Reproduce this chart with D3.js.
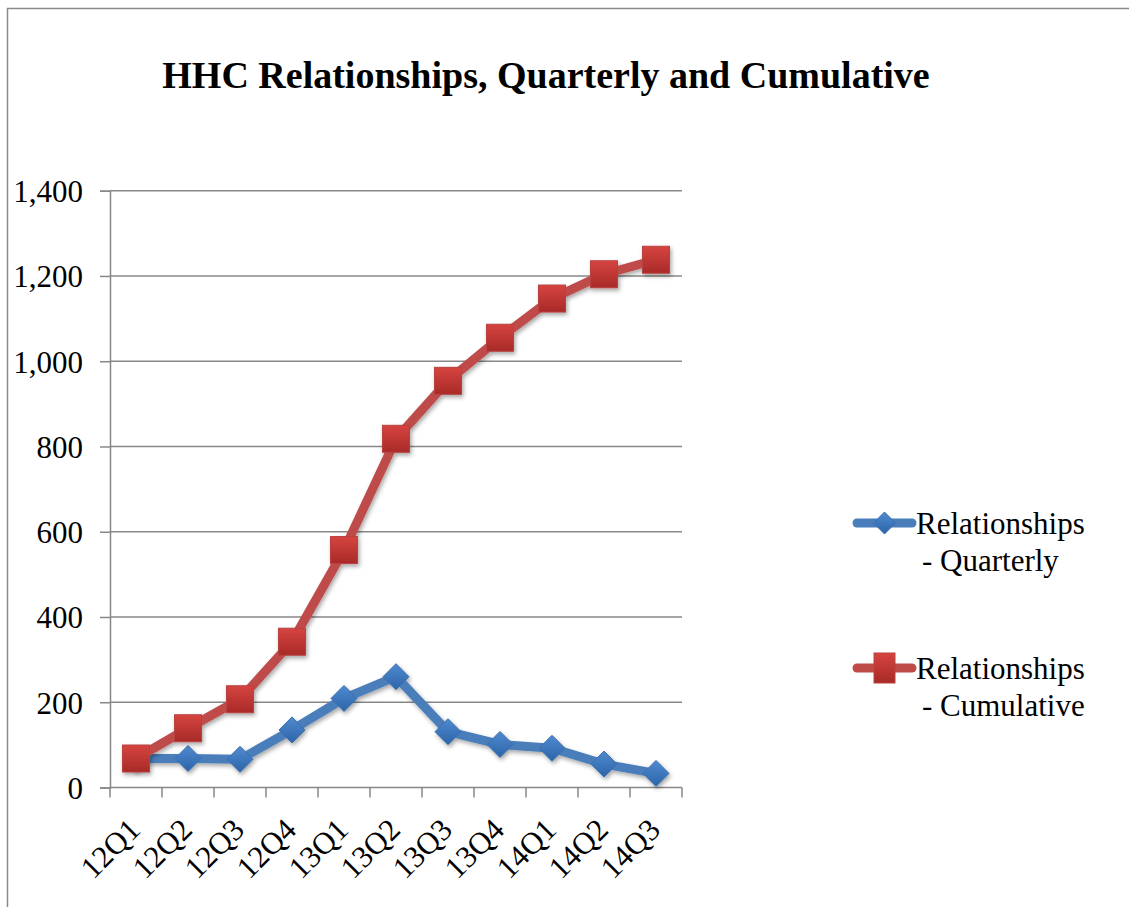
<!DOCTYPE html>
<html>
<head>
<meta charset="utf-8">
<script src="https://cdn.jsdelivr.net/npm/d3@7"></script>
<style>
  html, body { margin: 0; padding: 0; background: #ffffff; }
  svg { display: block; }
  svg text { font-family: "Liberation Serif", "Times New Roman", serif !important; fill: #000; }
</style>
</head>
<body>
<div id="chart"></div>
<script>
// Quarterly and cumulative HHC relationship counts
const quarters = ["12Q1", "12Q2", "12Q3", "12Q4", "13Q1", "13Q2", "13Q3", "13Q4", "14Q1", "14Q2", "14Q3"];
const quarterly = [68, 68, 66, 135, 209, 260, 131, 101, 92, 55, 33];
const cumulative = [68, 139, 207, 342, 557, 818, 954, 1055, 1147, 1204, 1238];
const yTicks = [0, 200, 400, 600, 800, 1000, 1200, 1400];
const seriesNames = ["Relationships - Quarterly", "Relationships - Cumulative"];

const W = 1129, H = 907;
const plot = { left: 110, right: 682, top: 190.7, bottom: 787.5 };
const SERIF = "'Liberation Serif', 'Times New Roman', serif";

const svg = d3.select("#chart").append("svg")
  .attr("width", W).attr("height", H)
  .style("font-family", SERIF);

const defs = svg.append("defs");

// soft drop shadow for lines and markers
const shadow = defs.append("filter").attr("id", "shadow")
  .attr("x", "-50%").attr("y", "-50%").attr("width", "200%").attr("height", "200%");
shadow.append("feDropShadow")
  .attr("dx", 1.5).attr("dy", 2.5).attr("stdDeviation", 2)
  .attr("flood-color", "#000").attr("flood-opacity", 0.35);

const redGrad = defs.append("linearGradient").attr("id", "redGrad")
  .attr("x1", 0).attr("y1", 0).attr("x2", 0).attr("y2", 1);
redGrad.append("stop").attr("offset", "0%").attr("stop-color", "#D64440");
redGrad.append("stop").attr("offset", "100%").attr("stop-color", "#A82A28");

const blueGrad = defs.append("linearGradient").attr("id", "blueGrad")
  .attr("x1", 0).attr("y1", 0).attr("x2", 0).attr("y2", 1);
blueGrad.append("stop").attr("offset", "0%").attr("stop-color", "#4F8AD0");
blueGrad.append("stop").attr("offset", "100%").attr("stop-color", "#2D64A8");

// outer frame
svg.append("rect")
  .attr("x", 7.5).attr("y", 8.5).attr("width", 1140).attr("height", 920)
  .attr("fill", "#fff").attr("stroke", "#8a8a8a").attr("stroke-width", 1.5);

// title
svg.append("text")
  .attr("x", 546).attr("y", 88)
  .attr("text-anchor", "middle")
  .attr("font-size", 38).attr("font-weight", "bold")
  .style("font-family", SERIF)
  .text("HHC Relationships, Quarterly and Cumulative");

const x = d3.scaleBand().domain(quarters).range([plot.left, plot.right]).padding(0);
const y = d3.scaleLinear().domain([0, 1400]).range([plot.bottom, plot.top]);

// horizontal gridlines
svg.append("g")
  .selectAll("line").data(yTicks.filter(d => d > 0)).join("line")
  .attr("x1", plot.left).attr("x2", plot.right)
  .attr("y1", d => y(d)).attr("y2", d => y(d))
  .attr("stroke", "#878787").attr("stroke-width", 1.5);

// y axis
const yAxis = svg.append("g")
  .attr("transform", `translate(${plot.left},0)`)
  .call(d3.axisLeft(y).tickValues(yTicks).tickSize(10).tickPadding(17)
    .tickFormat(d3.format(",")));
yAxis.attr("font-family", null).attr("font-size", null);
yAxis.select(".domain").attr("stroke", "#878787").attr("stroke-width", 1.5);
yAxis.selectAll(".tick line").attr("stroke", "#878787").attr("stroke-width", 1.5);
yAxis.selectAll(".tick text")
  .attr("font-size", 31).style("font-family", SERIF)
  .attr("fill", "#000").attr("dy", "0.35em");

// x axis with boundary ticks between categories
const xAxisG = svg.append("g").attr("transform", `translate(0,${plot.bottom})`);
xAxisG.append("line")
  .attr("x1", plot.left).attr("x2", plot.right)
  .attr("stroke", "#878787").attr("stroke-width", 1.5);
const boundaries = quarters.map(q => x(q)).concat([plot.right]);
xAxisG.selectAll("line.tk").data(boundaries).join("line").attr("class", "tk")
  .attr("x1", d => d).attr("x2", d => d).attr("y1", 0).attr("y2", 10)
  .attr("stroke", "#878787").attr("stroke-width", 1.5);
xAxisG.selectAll("text").data(quarters).join("text")
  .attr("transform", d => `translate(${x(d) + x.bandwidth() / 2 + 6},${44}) rotate(-45)`)
  .attr("text-anchor", "end")
  .attr("font-size", 31)
  .style("font-family", SERIF)
  .text(d => d);

const cx = (d, i) => x(quarters[i]) + x.bandwidth() / 2;
const line = d3.line().x((d, i) => cx(d, i)).y(d => y(d));

const diamond = s => `M0,${-s} L${s},0 L0,${s} L${-s},0 Z`;

// quarterly series: blue line with diamond markers
const gQ = svg.append("g").attr("filter", "url(#shadow)");
gQ.append("path").datum(quarterly)
  .attr("d", line).attr("fill", "none")
  .attr("stroke", "#4A7EBB").attr("stroke-width", 9)
  .attr("stroke-linejoin", "round").attr("stroke-linecap", "round");
gQ.selectAll("path.mk").data(quarterly).join("path").attr("class", "mk")
  .attr("d", diamond(13))
  .attr("transform", (d, i) => `translate(${cx(d, i)},${y(d)})`)
  .attr("fill", "url(#blueGrad)").attr("stroke", "#3A6FB0").attr("stroke-width", 1);

// cumulative series: red line with square markers
const gC = svg.append("g").attr("filter", "url(#shadow)");
gC.append("path").datum(cumulative)
  .attr("d", line).attr("fill", "none")
  .attr("stroke", "#BE4B48").attr("stroke-width", 9)
  .attr("stroke-linejoin", "round").attr("stroke-linecap", "round");
gC.selectAll("rect").data(cumulative).join("rect")
  .attr("x", (d, i) => cx(d, i) - 13.5).attr("y", d => y(d) - 13.5)
  .attr("width", 27).attr("height", 27)
  .attr("fill", "url(#redGrad)").attr("stroke", "#B84340").attr("stroke-width", 1);

// legend
const legend = svg.append("g");
const legendItems = [
  { name: seriesNames[0], color: "#4A7EBB", marker: "diamond", y: 523 },
  { name: seriesNames[1], color: "#BE4B48", marker: "square", y: 668 }
];
legendItems.forEach(it => {
  const g = legend.append("g");
  g.append("line")
    .attr("x1", 857).attr("x2", 912).attr("y1", it.y).attr("y2", it.y)
    .attr("stroke", it.color).attr("stroke-width", 9).attr("stroke-linecap", "round");
  if (it.marker === "diamond") {
    g.append("path").attr("d", diamond(11))
      .attr("transform", `translate(884.5,${it.y})`)
      .attr("fill", "url(#blueGrad)").attr("stroke", "#3A6FB0").attr("stroke-width", 1);
  } else {
    g.append("rect").attr("x", 874).attr("y", it.y - 15).attr("width", 21).attr("height", 30)
      .attr("fill", "url(#redGrad)").attr("stroke", "#B84340").attr("stroke-width", 1);
  }
  const parts = it.name.split(" - ");
  g.append("text").attr("x", 916).attr("y", it.y + 11).attr("font-size", 31)
    .style("font-family", SERIF).text(parts[0]);
  g.append("text").attr("x", 922).attr("y", it.y + 48).attr("font-size", 31)
    .style("font-family", SERIF).text("- " + parts[1]);
});
</script>
</body>
</html>
